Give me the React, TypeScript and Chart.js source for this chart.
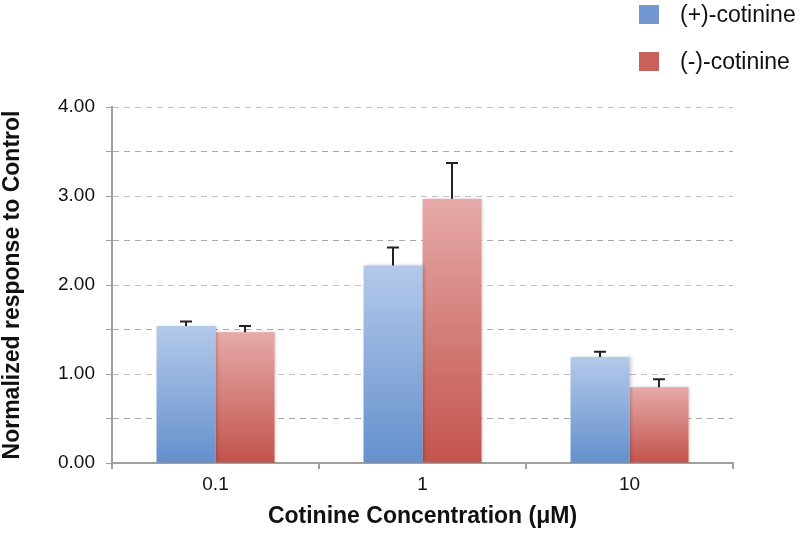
import React, { useEffect, useRef } from "react";
import { Chart, registerables } from "chart.js";

Chart.register(...registerables);

const categories = ["0.1", "1", "10"];
const plusValues = [1.54, 2.22, 1.19];
const plusErrors = [0.05, 0.2, 0.06];
const minusValues = [1.47, 2.97, 0.85];
const minusErrors = [0.07, 0.4, 0.09];
const seriesNames = ["(+)-cotinine", "(-)-cotinine"];
const yTitle = "Normalized response to Control";
const xTitle = "Cotinine Concentration (\u03BCM)";

const FONT = "'Liberation Sans', Arial, Helvetica, sans-serif";

function gradientFill(top: string, bottom: string, solid: string) {
  return (ctx: any) => {
    const chart = ctx.chart;
    if (!chart.chartArea || ctx.raw == null) return solid;
    const y = chart.scales.y;
    const yt = y.getPixelForValue(ctx.raw);
    const yb = y.getPixelForValue(0);
    const g = chart.ctx.createLinearGradient(0, yt, 0, yb);
    g.addColorStop(0, top);
    g.addColorStop(1, bottom);
    return g;
  };
}

const errorBarPlugin = {
  id: "errorBars",
  afterDatasetsDraw(chart: any) {
    const ctx = chart.ctx;
    const y = chart.scales.y;
    chart.data.datasets.forEach((ds: any, di: number) => {
      const meta = chart.getDatasetMeta(di);
      meta.data.forEach((bar: any, i: number) => {
        const v = ds.data[i];
        const e = ds.errors[i];
        const yTop = y.getPixelForValue(v + e);
        const yBar = y.getPixelForValue(v);
        ctx.save();
        ctx.strokeStyle = "#222";
        ctx.lineWidth = 2;
        ctx.beginPath();
        ctx.moveTo(bar.x, yBar);
        ctx.lineTo(bar.x, yTop);
        ctx.moveTo(bar.x - 6, yTop);
        ctx.lineTo(bar.x + 6, yTop);
        ctx.stroke();
        ctx.restore();
      });
    });
  },
};

const shadowPlugin = {
  id: "barShadow",
  beforeDatasetsDraw(chart: any) {
    const ctx = chart.ctx;
    ctx.save();
    ctx.shadowColor = "rgba(0,0,0,0.18)";
    ctx.shadowBlur = 3;
    ctx.shadowOffsetX = 2;
    ctx.shadowOffsetY = 0;
  },
  afterDatasetsDraw(chart: any) {
    chart.ctx.restore();
  },
};

export default function App() {
  const ref = useRef<HTMLCanvasElement>(null);

  useEffect(() => {
    document.body.style.margin = "0";
    const chart = new Chart(ref.current!, {
      type: "bar",
      data: {
        labels: categories,
        datasets: [
          {
            label: seriesNames[0],
            data: plusValues,
            errors: plusErrors,
            backgroundColor: gradientFill("#b4c9ea", "#6490cc", "#7b9fd4"),
            borderWidth: 0,
            categoryPercentage: 0.57,
            barPercentage: 1,
          } as any,
          {
            label: seriesNames[1],
            data: minusValues,
            errors: minusErrors,
            backgroundColor: gradientFill("#e6aaa8", "#c3534c", "#cf6b65"),
            borderWidth: 0,
            categoryPercentage: 0.57,
            barPercentage: 1,
          } as any,
        ],
      },
      options: {
        animation: false,
        responsive: false,
        maintainAspectRatio: false,
        layout: { padding: { top: 107, right: 67, left: 0, bottom: 0 } },
        plugins: {
          legend: { display: false },
          tooltip: { enabled: false },
        },
        scales: {
          x: {
            offset: true,
            grid: {
              offset: true,
              drawOnChartArea: false,
              drawTicks: true,
              tickLength: 6,
              color: "#a0a0a0",
              lineWidth: 2,
            },
            border: { color: "#a0a0a0", width: 2 },
            ticks: {
              color: "#111",
              font: { family: FONT, size: 19 },
              padding: 4,
            },
            title: {
              display: true,
              text: xTitle,
              color: "#111",
              font: { family: FONT, size: 23, weight: "bold", lineHeight: 1.2 },
              padding: { top: 0, bottom: 8 },
            },
            afterFit(s: any) {
              s.height = 75;
            },
          },
          y: {
            min: 0,
            max: 4,
            ticks: {
              stepSize: 0.5,
              color: "#111",
              font: { family: FONT, size: 19 },
              padding: 11,
              callback: (v: any) => (Number(v) % 1 === 0 ? Number(v).toFixed(2) : ""),
            },
            grid: {
              color: (c: any) =>
                c.tick && c.tick.value === 0
                  ? "rgba(0,0,0,0)"
                  : c.tick && c.tick.value % 1 === 0
                  ? "#c0c0c0"
                  : "#a8a8a8",
              lineWidth: 1,
              tickColor: "#a0a0a0",
              tickLength: 6,
              tickBorderDash: [],
            },
            border: { color: "#a0a0a0", width: 2, dash: [6, 5] },
            title: {
              display: true,
              text: yTitle,
              color: "#111",
              font: { family: FONT, size: 23, weight: "bold", lineHeight: 1 },
              padding: { top: 1, bottom: 0 },
            },
            afterFit(s: any) {
              s.width = 112;
            },
          },
        },
      } as any,
      plugins: [shadowPlugin, errorBarPlugin],
    });
    return () => chart.destroy();
  }, []);

  const legendItems = [
    { name: seriesNames[0], color: "#7297d1", top: 5 },
    { name: seriesNames[1], color: "#cb605a", top: 52 },
  ];

  return (
    <div style={{ position: "relative", width: 800, height: 538, background: "#fff" }}>
      <canvas ref={ref} width={800} height={538} style={{ display: "block" }} />
      {legendItems.map((it) => (
        <div
          key={it.name}
          style={{ position: "absolute", left: 639, top: it.top, height: 19, display: "flex", alignItems: "center" }}
        >
          <div style={{ width: 20, height: 19, background: it.color }} />
          <span
            style={{
              marginLeft: 21,
              fontFamily: FONT,
              fontSize: 23,
              color: "#111",
              lineHeight: "19px",
              whiteSpace: "nowrap",
            }}
          >
            {it.name}
          </span>
        </div>
      ))}
    </div>
  );
}
